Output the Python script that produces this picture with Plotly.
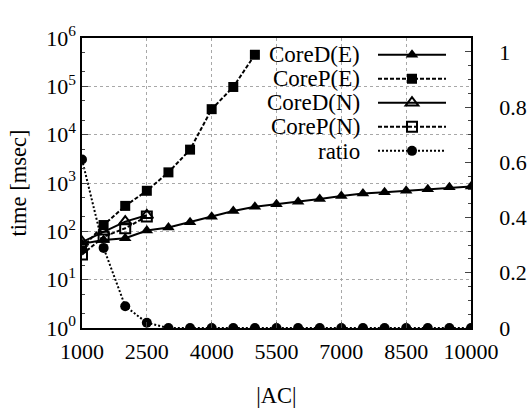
import plotly.graph_objects as go

# ---- data ----
ac = [1000, 1500, 2000, 2500, 3000, 3500, 4000, 4500, 5000, 5500,
      6000, 6500, 7000, 7500, 8000, 8500, 9000, 9500, 10000]
core_d_e = [55, 66, 72, 104, 120, 155, 200, 263, 324, 363,
            407, 468, 537, 603, 646, 692, 741, 813, 851]
core_p_e = [45, 135, 336, 690, 1660, 4900, 33700, 97000, 450000]
core_d_n = [60, 98, 159, 215]
core_p_n = [33, 77, 116, 202]
ratio = [0.61, 0.29, 0.079, 0.019, 0, 0, 0, 0, 0, 0,
         0, 0, 0, 0, 0, 0, 0, 0, 0]

names = ["CoreD(E)", "CoreP(E)", "CoreD(N)", "CoreP(N)", "ratio"]
x_ticks = [1000, 2500, 4000, 5500, 7000, 8500, 10000]
x_ticktext = ["1000", "2500", "4000", "5500", "7000", "8500", "10000"]
y_ticks = [1, 10, 100, 1000, 10000, 100000, 1000000]
y_ticktext = ["10<sup>0</sup>", "10<sup>1</sup>", "10<sup>2</sup>", "10<sup>3</sup>",
              "10<sup>4</sup>", "10<sup>5</sup>", "10<sup>6</sup>"]
y2_ticks = [0, 0.2, 0.4, 0.6, 0.8, 1]
y2_ticktext = ["0", "0.2", "0.4", "0.6", "0.8", "1"]

FONT = "Liberation Serif"
W, H = 529, 408
L, R, T, B = 82, 58, 38, 80
PW, PH = W - L - R, H - T - B

def px_x(p):
    return (p - L) / PW

def px_y(p):
    return (H - B - p) / PH

fig = go.Figure()
fig.add_trace(go.Scatter(x=ac, y=core_d_e, name=" ", mode="lines+markers",
                         line=dict(color="black", width=2),
                         marker=dict(symbol="triangle-up", size=11, color="black")))
fig.add_trace(go.Scatter(x=ac[:len(core_p_e)], y=core_p_e, name=" ", mode="lines+markers",
                         line=dict(color="black", width=2, dash="4px,2px"),
                         marker=dict(symbol="square", size=10, color="black")))
fig.add_trace(go.Scatter(x=ac[:len(core_d_n)], y=core_d_n, name=" ", mode="lines+markers",
                         line=dict(color="black", width=2),
                         marker=dict(symbol="triangle-up-open", size=11, color="black",
                                     line=dict(width=2, color="black"))))
fig.add_trace(go.Scatter(x=ac[:len(core_p_n)], y=core_p_n, name=" ", mode="lines+markers",
                         line=dict(color="black", width=2, dash="4px,2px"),
                         marker=dict(symbol="square-open", size=10, color="black",
                                     line=dict(width=2, color="black"))))
fig.add_trace(go.Scatter(x=ac, y=ratio, name=" ", mode="lines+markers", yaxis="y2",
                         line=dict(color="black", width=2, dash="2px,2px"),
                         marker=dict(symbol="circle", size=10, color="black")))

# legend text on the left of the samples (gnuplot style)
row_y = [54, 78.3, 102.6, 126.9, 151.2]
annotations = []
for nm, ry in zip(names, row_y):
    annotations.append(dict(text=nm, xref="paper", yref="paper", x=px_x(362), y=px_y(ry),
                            xanchor="right", yanchor="middle", showarrow=False,
                            font=dict(family=FONT, size=23, color="black")))

fig.update_layout(
    width=W, height=H,
    margin=dict(l=L, r=R, t=T, b=B),
    paper_bgcolor="white", plot_bgcolor="white",
    font=dict(family=FONT, size=22, color="black"),
    showlegend=True,
    legend=dict(x=px_x(373), y=px_y(37.6), xanchor="left", yanchor="top",
                bgcolor="rgba(0,0,0,0)", borderwidth=0, itemwidth=68,
                font=dict(family=FONT, size=16.2), tracegroupgap=0),
    annotations=annotations,
    shapes=[dict(type="rect", xref="paper", yref="paper", x0=px_x(245), x1=px_x(457),
                 y0=px_y(163), y1=1, fillcolor="white", line=dict(width=0), layer="between")],
    xaxis=dict(range=[1000, 10000], tickvals=x_ticks, ticktext=x_ticktext, ticks="inside",
               ticklen=6, tickwidth=1, showline=True, linecolor="black", linewidth=1.5,
               mirror=True, showgrid=True, gridcolor="#a8a8a8", griddash="dot", gridwidth=1,
               zeroline=False, tickfont=dict(size=22), ticklabelstandoff=3, automargin=False,
               title=dict(text="|AC|", font=dict(size=22.5), standoff=24)),
    yaxis=dict(type="log", range=[0, 6], tickvals=y_ticks, ticktext=y_ticktext,
               ticks="inside", ticklen=6, showline=True, linecolor="black", linewidth=1.5,
               mirror=True, showgrid=True, gridcolor="#a8a8a8", griddash="dot", gridwidth=1,
               zeroline=False, tickfont=dict(size=22), automargin=False,
               minor=dict(dtick="D2", ticks="inside", ticklen=3, showgrid=False),
               title=dict(text="time [msec]", font=dict(size=22.5), standoff=13)),
    yaxis2=dict(overlaying="y", side="right", range=[0, 1.05], tickvals=y2_ticks,
                ticktext=y2_ticktext, ticks="inside", ticklen=6, showline=True,
                linecolor="black", linewidth=1.5, showgrid=False, zeroline=False,
                tickfont=dict(size=22), ticklabelstandoff=22, automargin=False,
                minor=dict(dtick=0.05, ticks="inside", ticklen=3)),
)

fig.write_html("out.html")
